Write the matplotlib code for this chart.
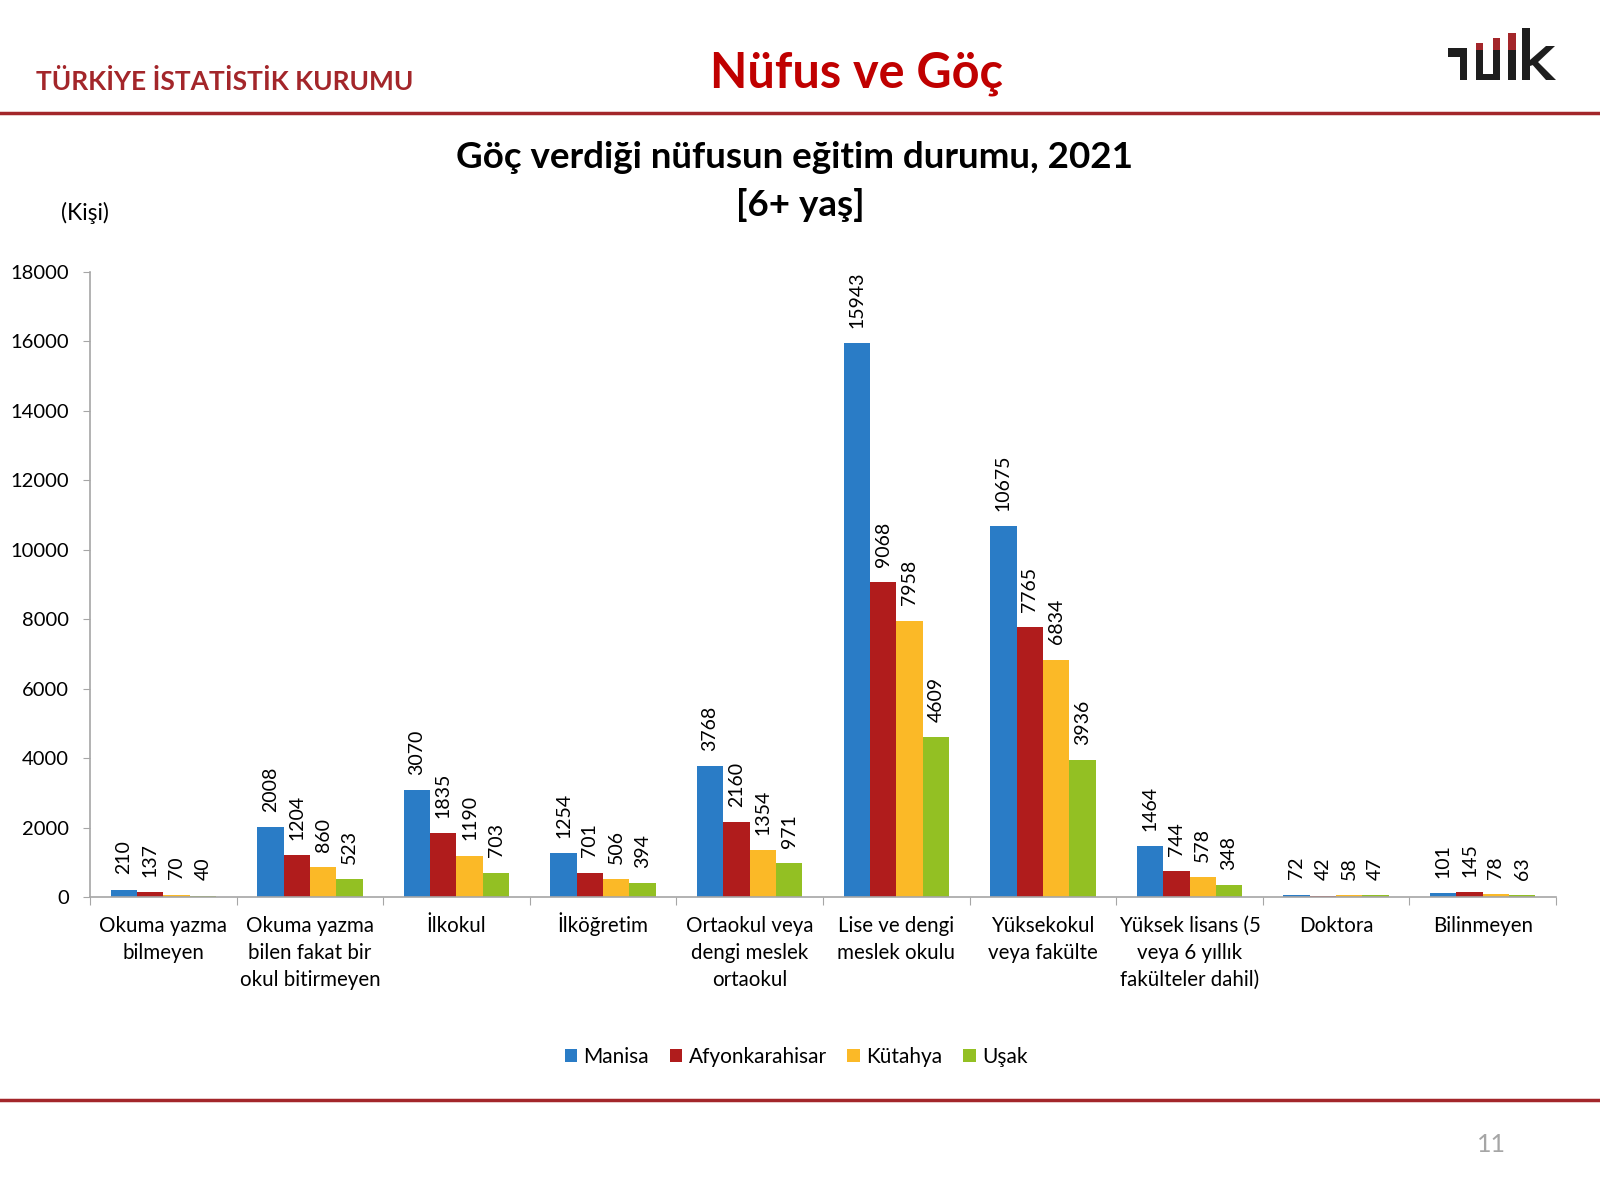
import numpy as np
import matplotlib
matplotlib.use("Agg")
import matplotlib.pyplot as plt
from matplotlib.patches import Rectangle, Polygon

plt.rcParams['font.family'] = ['Lato', 'DejaVu Sans']

# education categories and values per province
categories = ["Okuma yazma\nbilmeyen", "Okuma yazma\nbilen fakat bir\nokul bitirmeyen", "İlkokul",
              "İlköğretim", "Ortaokul veya\ndengi meslek\nortaokul", "Lise ve dengi\nmeslek okulu",
              "Yüksekokul\nveya fakülte", "Yüksek lisans (5\nveya 6 yıllık\nfakülteler dahil)",
              "Doktora", "Bilinmeyen"]
provinces = ["Manisa", "Afyonkarahisar", "Kütahya", "Uşak"]
manisa = [210, 2008, 3070, 1254, 3768, 15943, 10675, 1464, 72, 101]
afyon = [137, 1204, 1835, 701, 2160, 9068, 7765, 744, 42, 145]
kutahya = [70, 860, 1190, 506, 1354, 7958, 6834, 578, 58, 78]
usak = [40, 523, 703, 394, 971, 4609, 3936, 348, 47, 63]
yticks = [0, 2000, 4000, 6000, 8000, 10000, 12000, 14000, 16000, 18000]

colors = ["#2A7CC6", "#B01C1C", "#FBB927", "#93C023"]
dark_red = "#A3262A"

fig = plt.figure(figsize=(16, 12), dpi=100)

# ---- decoration layer in pixel coordinates ----
deco = fig.add_axes([0, 0, 1, 1])
deco.set_xlim(0, 1600)
deco.set_ylim(1200, 0)
deco.axis('off')
deco.plot([0, 1600], [113, 113], color=dark_red, lw=2.5)
deco.plot([0, 1600], [1100, 1100], color=dark_red, lw=2.5)

# tüik logo
blk = "#1E1E1E"
for (x, y, w, h, c) in [(1448, 48, 19, 9, blk), (1460, 48, 7, 32, blk),
                        (1476, 50, 7, 30, blk), (1476, 43, 7, 7, dark_red),
                        (1476, 74, 24, 6, blk),
                        (1493, 50, 7, 30, blk), (1493, 38, 7, 12, dark_red),
                        (1508, 50, 8, 30, blk), (1508, 33, 8, 17, dark_red),
                        (1522, 28, 8, 52, blk)]:
    deco.add_patch(Rectangle((x, y), w, h, color=c, lw=0))
deco.add_patch(Polygon([(1530, 60), (1546, 46), (1555, 46), (1536, 64), (1530, 66)], color=blk, lw=0))
deco.add_patch(Polygon([(1530, 62), (1536, 60), (1556, 80), (1546, 80)], color=blk, lw=0))

fig.text(0.0225, 1 - 82 / 1200, "TÜRKİYE İSTATİSTİK KURUMU", color=dark_red,
         fontsize=19, fontweight='bold', va='center', ha='left')
fig.text(857 / 1600, 1 - 74 / 1200, "Nüfus ve Göç", color="#C00000",
         fontsize=35, fontweight='bold', va='center', ha='center')
fig.text(794 / 1600, 1 - 157 / 1200, "Göç verdiği nüfusun eğitim durumu, 2021",
         fontsize=26.5, fontweight='bold', va='center', ha='center')
fig.text(800 / 1600, 1 - 205 / 1200, "[6+ yaş]",
         fontsize=26.5, fontweight='bold', va='center', ha='center')
fig.text(61 / 1600, 1 - 213 / 1200, "(Kişi)", fontsize=16.5, va='center', ha='left')
fig.text(1491 / 1600, 1 - 1145 / 1200, "11", fontsize=18, color="#A6A6A6",
         va='center', ha='center')

# ---- chart ----
ax = fig.add_axes([90 / 1600, 1 - 897 / 1200, (1556 - 90) / 1600, (897 - 272) / 1200])
series = [manisa, afyon, kutahya, usak]
n = len(categories)
x = np.arange(n)
bw = 0.18
for i, (vals, name, col) in enumerate(zip(series, provinces, colors)):
    pos = x + (i - 1.5) * bw
    ax.bar(pos, vals, width=bw, color=col, label=name, zorder=2)
    for p, v in zip(pos, vals):
        ax.annotate(str(v), (p, v), xytext=(0, 11), textcoords='offset points',
                    rotation=90, ha='center', va='bottom', fontsize=14)

ax.set_xlim(-0.5, n - 0.5)
ax.set_ylim(0, 18000)
ax.set_yticks(yticks)
ax.set_yticklabels([str(t) for t in yticks], fontsize=14.5)
ax.set_xticks(np.arange(n + 1) - 0.5)
ax.set_xticklabels([])

# category labels, one line at a time so every first line shares a baseline
for xi, lab in zip(x, categories):
    for j, line in enumerate(lab.split("\n")):
        ax.annotate(line, (xi, 0), xycoords=('data', 'axes fraction'),
                    xytext=(0, -25 - 19.4 * j), textcoords='offset points',
                    ha='center', va='baseline', fontsize=14.8)

ax.tick_params(axis='x', length=6, color="#A6A6A6")
ax.tick_params(axis='y', length=5, color="#A6A6A6", pad=10)
for s in ['top', 'right']:
    ax.spines[s].set_visible(False)
for s in ['left', 'bottom']:
    ax.spines[s].set_color("#A6A6A6")
    ax.spines[s].set_linewidth(1.2)

fig.legend(loc='center', bbox_to_anchor=(796 / 1600, 1 - 1057 / 1200), ncol=4,
           frameon=False, fontsize=15, handlelength=0.6, handleheight=0.6,
           handletextpad=0.3, columnspacing=1.0)

fig.savefig("out.png", dpi=100)
